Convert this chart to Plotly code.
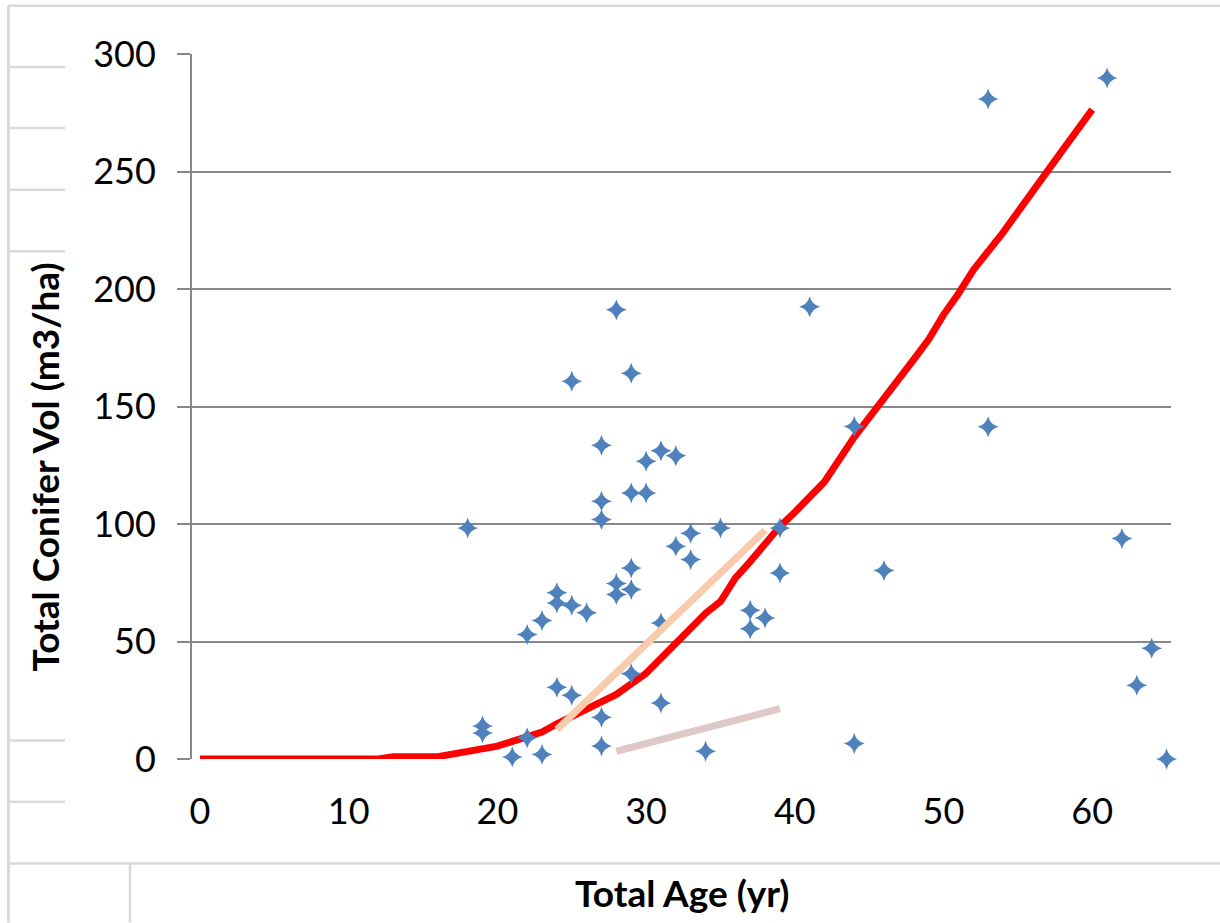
import plotly.graph_objects as go

# Observed data (Total Age vs Total Conifer Volume)
age_obs = [18, 19, 19, 21, 22, 22, 23, 23, 24, 24, 24, 25, 25, 25, 26,
           27, 27, 27, 27, 27, 28, 28, 28, 29, 29, 29, 29, 29, 30, 30,
           31, 31, 31, 32, 32, 33, 33, 34, 35, 37, 37, 38, 39, 39, 41,
           44, 44, 46, 53, 53, 61, 62, 63, 64, 65]
vol_obs = [98.3, 14.0, 11.1, 0.8, 53.0, 9.0, 58.9, 1.9, 70.7, 66.4, 30.5, 160.7, 65.4, 27.1, 62.2,
           133.5, 109.7, 101.9, 17.8, 5.5, 191.2, 74.7, 70.0, 164.1, 113.2, 81.3, 72.1, 36.3, 126.7, 113.2,
           131.2, 57.9, 23.8, 129.0, 90.5, 96.1, 84.9, 3.3, 98.3, 63.3, 55.4, 60.0, 98.3, 79.2, 192.4,
           141.5, 6.6, 80.2, 280.9, 141.4, 289.8, 93.8, 31.4, 47.1, 0.0]

# Fitted growth curve
age_fit = [0, 12, 13, 16, 20, 22, 23, 24, 26, 28, 30, 32, 34, 35, 36, 37, 38, 39,
           40, 42, 44, 46, 48, 49, 50, 51, 52, 54, 56, 58, 60]
vol_fit = [0, 0, 1, 1, 5.5, 9, 11.5, 15, 21, 27.5, 36.5, 49, 62, 67, 77, 84, 92, 99,
           105, 118, 137, 153, 170, 178.5, 189, 198, 208, 224, 241, 259, 276.3]

# Two short trend segments
age_seg1 = [24, 38]
vol_seg1 = [12.5, 97.3]
age_seg2 = [28, 39]
vol_seg2 = [3.3, 21.4]

x_ticks = [0, 10, 20, 30, 40, 50, 60]
y_ticks = [0, 50, 100, 150, 200, 250, 300]

FONT = "Lato"
W, H = 1220, 923
L, R, T, B = 192, 1171, 54.3, 759.5

fig = go.Figure()
fig.add_trace(go.Scatter(x=age_fit, y=vol_fit, mode="lines",
                         line=dict(color="#FF0000", width=7), showlegend=False,
                         cliponaxis=False))
fig.add_trace(go.Scatter(x=age_obs, y=vol_obs, mode="markers",
                         marker=dict(symbol="star-diamond", size=15, color="#4F81BD",
                                     line=dict(width=0)),
                         showlegend=False, cliponaxis=False))
fig.add_trace(go.Scatter(x=age_seg1, y=vol_seg1, mode="lines",
                         line=dict(color="#F8CBAD", width=7), showlegend=False))
fig.add_trace(go.Scatter(x=age_seg2, y=vol_seg2, mode="lines",
                         line=dict(color="#DFC8C8", width=7), showlegend=False))


def px(x):
    return (x - L) / (R - L)


def py(y):
    return (B - y) / (B - T)


frame = "#D9D9D9"
shapes = []
shapes.append(dict(type="line", xref="paper", yref="paper", x0=px(8), x1=px(1220), y0=py(6), y1=py(6),
                   line=dict(color=frame, width=2.5)))
shapes.append(dict(type="line", xref="paper", yref="paper", x0=px(8.5), x1=px(8.5), y0=py(6), y1=py(923),
                   line=dict(color=frame, width=3)))
for yy in [67.3, 128.3, 190, 251.7, 741, 802.3]:
    shapes.append(dict(type="line", xref="paper", yref="paper", x0=px(8), x1=px(65), y0=py(yy), y1=py(yy),
                       line=dict(color=frame, width=2.5)))
shapes.append(dict(type="line", xref="paper", yref="paper", x0=px(8), x1=px(1220), y0=py(864), y1=py(864),
                   line=dict(color=frame, width=2.5)))
shapes.append(dict(type="line", xref="paper", yref="paper", x0=px(130), x1=px(130), y0=py(864), y1=py(923),
                   line=dict(color=frame, width=2.5)))

fig.update_layout(
    width=W, height=H,
    margin=dict(l=L, r=W - R, t=T, b=H - B, pad=0),
    paper_bgcolor="white", plot_bgcolor="white",
    font=dict(family=FONT, color="#000000"),
    shapes=shapes,
    annotations=[
        dict(text="<b>Total Conifer Vol (m3/ha)</b>", xref="paper", yref="paper",
             x=px(45), y=py(468), textangle=-90, showarrow=False,
             font=dict(family=FONT, size=37, color="#000"), xanchor="center", yanchor="middle"),
        dict(text="<b>Total Age (yr)</b>", xref="paper", yref="paper",
             x=px(682), y=py(893), showarrow=False,
             font=dict(family=FONT, size=37, color="#000"), xanchor="center", yanchor="middle"),
    ],
)
fig.update_xaxes(range=[-0.538, 65.3], tickvals=x_ticks, ticktext=[str(v) for v in x_ticks],
                 showgrid=False, zeroline=False, showline=False, ticks="",
                 tickfont=dict(family=FONT, size=36, color="#000"), ticklabelstandoff=28)
fig.update_yaxes(range=[0, 300], tickvals=y_ticks, ticktext=[str(v) for v in y_ticks],
                 showgrid=True, gridcolor="#878787", gridwidth=2,
                 zeroline=False, showline=True, linecolor="#878787", linewidth=2,
                 ticks="outside", ticklen=13, tickwidth=2, tickcolor="#878787",
                 tickfont=dict(family=FONT, size=36, color="#000"), ticklabelstandoff=14)

fig.write_html("out.html")
